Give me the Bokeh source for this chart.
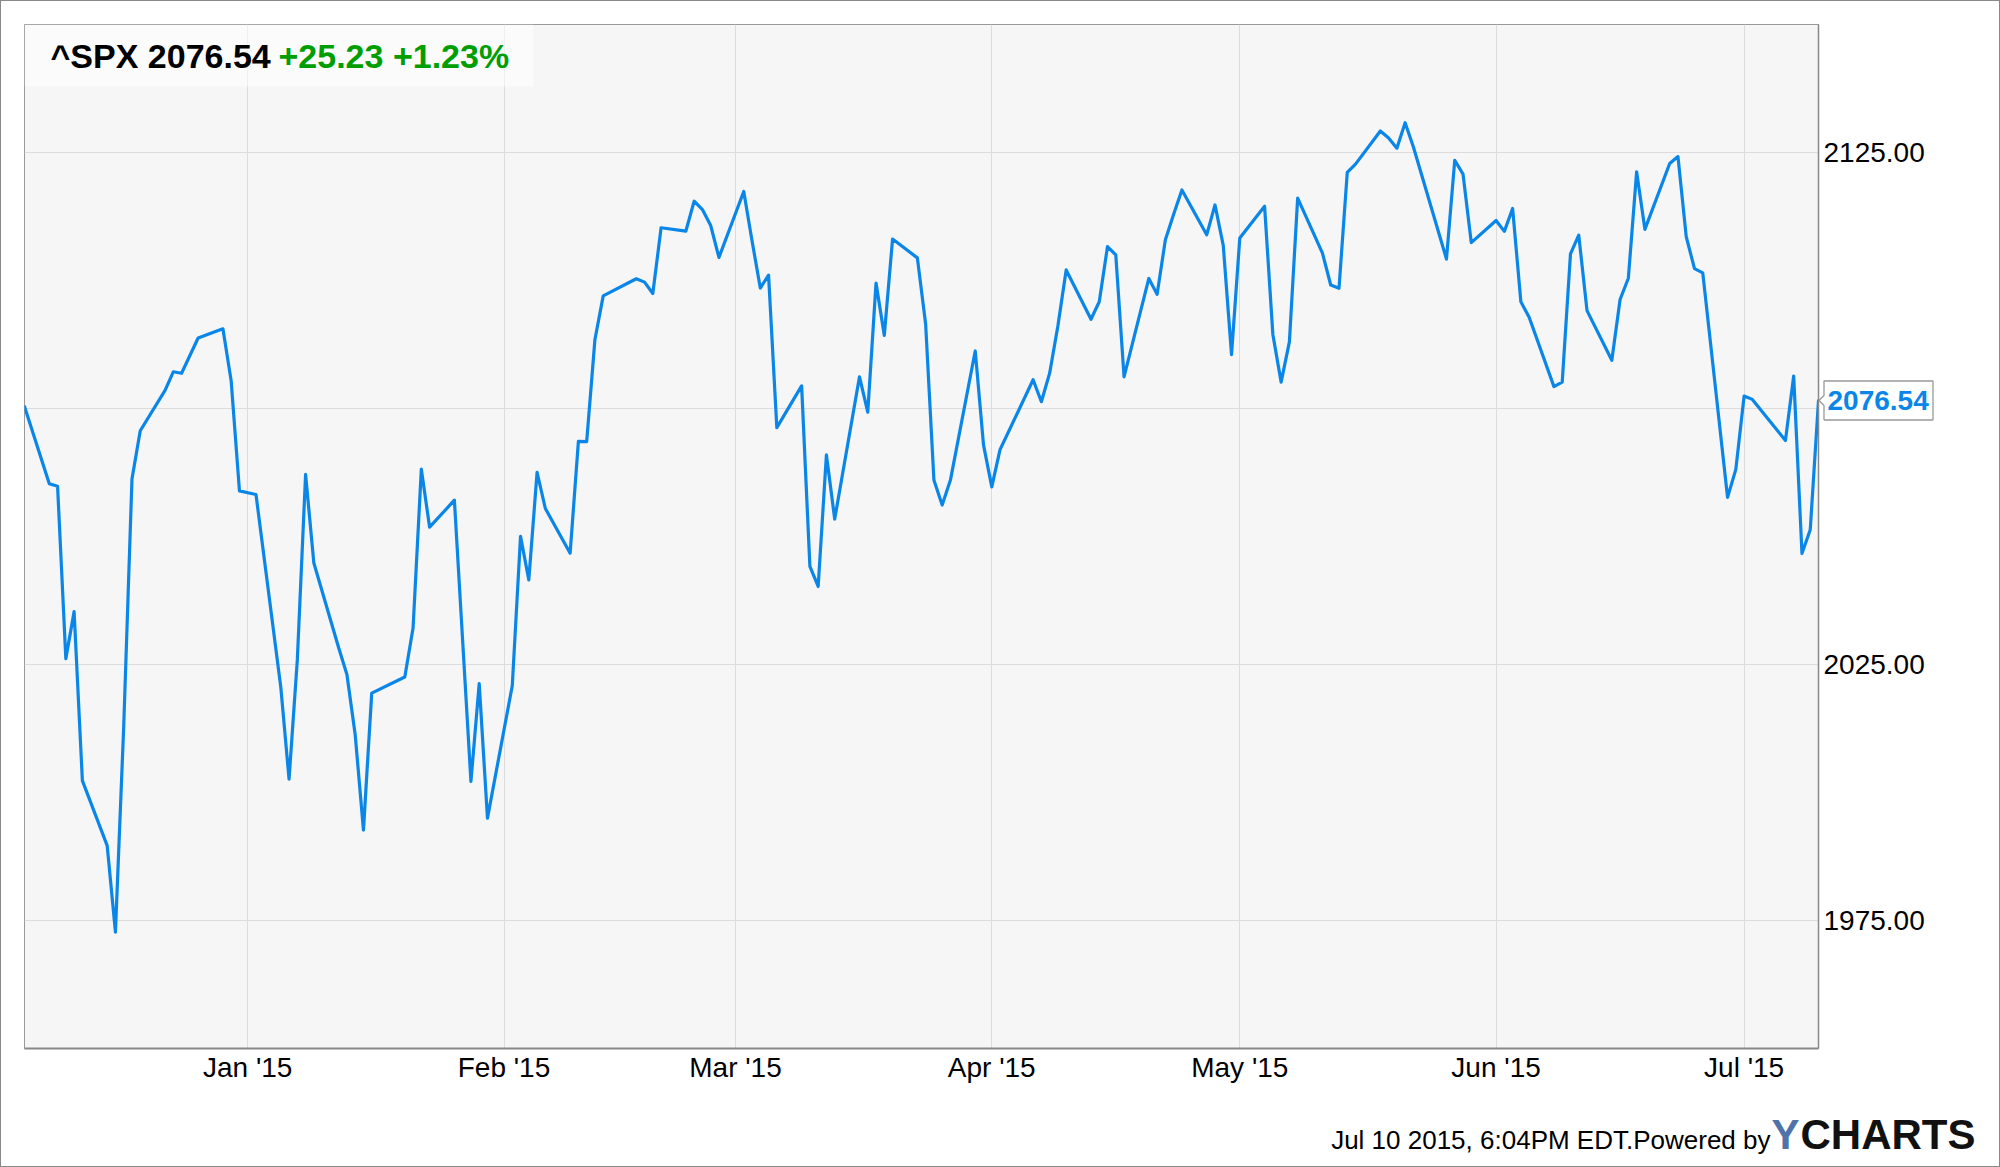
import pandas as pd
from bokeh.plotting import figure
from bokeh.models import (Range1d, FixedTicker, Label, BoxAnnotation, PrintfTickFormatter,
                          ColumnDataSource, LinearAxis, GridBox)
from bokeh.embed import file_html
from bokeh.resources import INLINE

# ---------------- data ----------------
dates = [
    "2014-12-05", "2014-12-08", "2014-12-09", "2014-12-10", "2014-12-11", "2014-12-12",
    "2014-12-15", "2014-12-16", "2014-12-17", "2014-12-18", "2014-12-19", "2014-12-22",
    "2014-12-23", "2014-12-24", "2014-12-26", "2014-12-29", "2014-12-30", "2014-12-31",
    "2015-01-02", "2015-01-05", "2015-01-06", "2015-01-07", "2015-01-08", "2015-01-09",
    "2015-01-12", "2015-01-13", "2015-01-14", "2015-01-15", "2015-01-16", "2015-01-20",
    "2015-01-21", "2015-01-22", "2015-01-23", "2015-01-26", "2015-01-27", "2015-01-28",
    "2015-01-29", "2015-01-30",
    "2015-02-02", "2015-02-03", "2015-02-04", "2015-02-05", "2015-02-06", "2015-02-09",
    "2015-02-10", "2015-02-11", "2015-02-12", "2015-02-13", "2015-02-17", "2015-02-18",
    "2015-02-19", "2015-02-20", "2015-02-23", "2015-02-24", "2015-02-25", "2015-02-26",
    "2015-02-27",
    "2015-03-02", "2015-03-03", "2015-03-04", "2015-03-05", "2015-03-06", "2015-03-09",
    "2015-03-10", "2015-03-11", "2015-03-12", "2015-03-13", "2015-03-16", "2015-03-17",
    "2015-03-18", "2015-03-19", "2015-03-20", "2015-03-23", "2015-03-24", "2015-03-25",
    "2015-03-26", "2015-03-27", "2015-03-30", "2015-03-31",
    "2015-04-01", "2015-04-02", "2015-04-06", "2015-04-07", "2015-04-08", "2015-04-09",
    "2015-04-10", "2015-04-13", "2015-04-14", "2015-04-15", "2015-04-16", "2015-04-17",
    "2015-04-20", "2015-04-21", "2015-04-22", "2015-04-23", "2015-04-24", "2015-04-27",
    "2015-04-28", "2015-04-29", "2015-04-30",
    "2015-05-01", "2015-05-04", "2015-05-05", "2015-05-06", "2015-05-07", "2015-05-08",
    "2015-05-11", "2015-05-12", "2015-05-13", "2015-05-14", "2015-05-15", "2015-05-18",
    "2015-05-19", "2015-05-20", "2015-05-21", "2015-05-22", "2015-05-26", "2015-05-27",
    "2015-05-28", "2015-05-29",
    "2015-06-01", "2015-06-02", "2015-06-03", "2015-06-04", "2015-06-05", "2015-06-08",
    "2015-06-09", "2015-06-10", "2015-06-11", "2015-06-12", "2015-06-15", "2015-06-16",
    "2015-06-17", "2015-06-18", "2015-06-19", "2015-06-22", "2015-06-23", "2015-06-24",
    "2015-06-25", "2015-06-26", "2015-06-29", "2015-06-30",
    "2015-07-01", "2015-07-02", "2015-07-06", "2015-07-07", "2015-07-08", "2015-07-09",
    "2015-07-10",
]

closes = [
    2075.37, 2060.31, 2059.82, 2026.14, 2035.33, 2002.33, 1989.63, 1972.74, 2012.89,
    2061.23, 2070.65, 2078.54, 2082.17, 2081.88, 2088.77, 2090.57, 2080.35, 2058.90,
    2058.20, 2020.58, 2002.61, 2025.90, 2062.14, 2044.81, 2028.26, 2023.03, 2011.27,
    1992.67, 2019.42, 2022.55, 2032.12, 2063.15, 2051.82, 2057.09, 2029.55, 2002.16,
    2021.25, 1994.99,
    2020.85, 2050.03, 2041.51, 2062.52, 2055.47, 2046.74, 2068.59, 2068.53, 2088.48,
    2096.99, 2100.34, 2099.68, 2097.45, 2110.30, 2109.66, 2115.48, 2113.86, 2110.74,
    2104.50,
    2117.39, 2107.78, 2098.53, 2101.04, 2071.26, 2079.43, 2044.16, 2040.24, 2065.95,
    2053.40, 2081.19, 2074.28, 2099.50, 2089.27, 2108.10, 2104.42, 2091.50, 2061.05,
    2056.15, 2061.02, 2086.24, 2067.89,
    2059.69, 2066.96, 2080.62, 2076.33, 2081.90, 2091.18, 2102.06, 2092.43, 2095.84,
    2106.63, 2104.99, 2081.18, 2100.40, 2097.29, 2107.96, 2112.93, 2117.69, 2108.92,
    2114.76, 2106.85, 2085.51,
    2108.29, 2114.49, 2089.46, 2080.15, 2088.00, 2116.10, 2105.33, 2099.12, 2098.48,
    2121.10, 2122.73, 2129.20, 2127.83, 2125.85, 2130.82, 2126.06, 2104.20, 2123.48,
    2120.79, 2107.39,
    2111.73, 2109.60, 2114.07, 2095.84, 2092.83, 2079.28, 2080.15, 2105.20, 2108.86,
    2094.11, 2084.43, 2096.29, 2100.44, 2121.24, 2109.99, 2122.85, 2124.20, 2108.58,
    2102.31, 2101.49, 2057.64, 2063.11,
    2077.42, 2076.78, 2068.76, 2081.34, 2046.68, 2051.31, 2076.54,
]

month_ticks = ["2015-01-01", "2015-02-01", "2015-03-01", "2015-04-01",
               "2015-05-01", "2015-06-01", "2015-07-01"]
month_labels = ["Jan '15", "Feb '15", "Mar '15", "Apr '15", "May '15", "Jun '15", "Jul '15"]

y_ticks = [1975, 2025, 2075, 2125]
y_hidden = [2075]

ticker_name = "^SPX"
last_value = 2076.54
change_abs = "+25.23"
change_pct = "+1.23%"
footer_text = "Jul 10 2015, 6:04PM EDT.Powered by"

# ---------------- styling / geometry ----------------
LINE_BLUE = "#0a86e8"
GREEN = "#009e00"
FONT = "Liberation Sans"
W, H_MAIN, H_FOOT = 1998, 1095, 70
B_LEFT, B_TOP, B_RIGHT = 23, 23, 181
FRAME_H = 1024
Y0, Y1 = 1950, 2150

x = pd.to_datetime(dates)
src = ColumnDataSource(dict(date=x, close=closes))

def ms(d):
    return pd.Timestamp(d).value / 1e6

x_start, x_end = ms(dates[0]), ms(dates[-1])

p = figure(width=W, height=H_MAIN, x_axis_type="datetime", y_axis_location="right",
           x_range=Range1d(x_start, x_end), y_range=Range1d(Y0, Y1),
           output_backend="svg", toolbar_location=None,
           min_border_left=B_LEFT, min_border_top=B_TOP, min_border_right=B_RIGHT,
           min_border_bottom=H_MAIN - B_TOP - FRAME_H,
           background_fill_color="#f6f6f6", border_fill_color="white",
           outline_line_color="#999999", outline_line_width=1)

p.line("date", "close", source=src, line_color=LINE_BLUE, line_width=3.2,
       line_join="round", line_cap="round")

# x axis
tick_ms = [ms(t) for t in month_ticks]
p.xaxis.ticker = FixedTicker(ticks=tick_ms)
p.xaxis.major_label_overrides = {t: lab for t, lab in zip(tick_ms, month_labels)}
p.xaxis.axis_line_color = "#888888"
p.xaxis.axis_line_width = 2
p.xaxis.major_tick_line_color = None
p.xaxis.minor_tick_line_color = None
p.xaxis.major_tick_out = 0
p.xaxis.major_label_standoff = 3
p.xaxis.major_label_text_font = FONT
p.xaxis.major_label_text_font_size = "28px"
p.xaxis.major_label_text_color = "#000000"

# y axis (right)
p.yaxis.ticker = FixedTicker(ticks=y_ticks)
p.yaxis.formatter = PrintfTickFormatter(format="%.2f")
p.yaxis.major_label_overrides = {v: "" for v in y_hidden}
p.yaxis.axis_line_color = "#888888"
p.yaxis.axis_line_width = 1.5
p.yaxis.major_tick_line_color = None
p.yaxis.minor_tick_line_color = None
p.yaxis.major_tick_out = 0
p.yaxis.major_label_standoff = 5
p.yaxis.major_label_text_font = FONT
p.yaxis.major_label_text_font_size = "28px"
p.yaxis.major_label_text_color = "#000000"

# last-value tag: a second right axis pulled back over the first one
tag_axis = LinearAxis(ticker=FixedTicker(ticks=[closes[-1]]),
                      formatter=PrintfTickFormatter(format="%.2f"),
                      axis_line_color=None, major_tick_line_color=None,
                      minor_tick_line_color=None, major_tick_out=0,
                      major_label_standoff=-100,
                      major_label_text_font=FONT, major_label_text_font_size="28px",
                      major_label_text_font_style="bold", major_label_text_color=LINE_BLUE)
p.add_layout(tag_axis, "right")

p.xgrid.grid_line_color = "#dcdcdc"
p.ygrid.grid_line_color = "#dcdcdc"

# title box
p.add_layout(BoxAnnotation(left=0, right=509, top=FRAME_H, bottom=FRAME_H - 62,
                           left_units="screen", right_units="screen",
                           top_units="screen", bottom_units="screen",
                           fill_color="white", fill_alpha=0.55, line_color=None))
p.add_layout(Label(x=26, y=FRAME_H - 31, x_units="screen", y_units="screen",
                   text=f"{ticker_name} {last_value:.2f}", text_font=FONT,
                   text_font_size="34px", text_font_style="bold", text_color="#000000",
                   text_baseline="middle", text_align="left"))
p.add_layout(Label(x=254, y=FRAME_H - 31, x_units="screen", y_units="screen",
                   text=f"{change_abs} {change_pct}", text_font=FONT,
                   text_font_size="34px", text_font_style="bold", text_color=GREEN,
                   text_baseline="middle", text_align="left"))

# box + pointer around the last-value tag (transparent overlay in the same grid cell)
TAG_W, TAG_H = 118, 42
tag_center = B_TOP + (Y1 - closes[-1]) / (Y1 - Y0) * FRAME_H
tag_box = figure(width=TAG_W, height=TAG_H, x_range=Range1d(0, TAG_W),
                 y_range=Range1d(0, TAG_H),
                 output_backend="svg", toolbar_location=None, x_axis_location=None,
                 y_axis_location=None, min_border=0, outline_line_color=None,
                 background_fill_alpha=0, border_fill_alpha=0,
                 align="start",
                 margin=(int(round(tag_center - TAG_H / 2)), 0, 0, W - B_RIGHT - 2))
tag_box.grid.visible = False
tag_box.line([7.5, 116.5, 116.5, 7.5, 7.5, 2.5, 7.5, 7.5],
             [1.5, 1.5, 40.5, 40.5, 26, 21, 16, 1.5],
             line_color="#999999", line_width=1.3)

# footer
f = figure(width=W, height=H_FOOT, x_range=Range1d(0, W), y_range=Range1d(0, H_FOOT),
           output_backend="svg", toolbar_location=None, x_axis_location=None,
           y_axis_location=None, min_border=0, outline_line_color=None,
           background_fill_color="white", border_fill_color="white")
f.grid.visible = False
for fig in (p, tag_box, f):
    if hasattr(fig, "frame_align"):
        fig.frame_align = False
f.add_layout(Label(x=1769, y=27, text=footer_text, text_font=FONT, text_font_size="26px",
                   text_color="#000000", text_baseline="middle", text_align="right"))
f.add_layout(Label(x=1770, y=32, text="Y", text_font=FONT, text_font_size="42px",
                   text_font_style="bold", text_color="#4f73a8",
                   text_baseline="middle", text_align="left"))
f.add_layout(Label(x=1799, y=32, text="CHARTS", text_font=FONT, text_font_size="42px",
                   text_font_style="bold", text_color="#111111",
                   text_baseline="middle", text_align="left"))

layout = GridBox(children=[(p, 0, 0), (tag_box, 0, 0), (f, 1, 0)], spacing=0,
                 styles={"border": "1px solid #888888"})
open("out.html", "w").write(file_html(layout, INLINE))
